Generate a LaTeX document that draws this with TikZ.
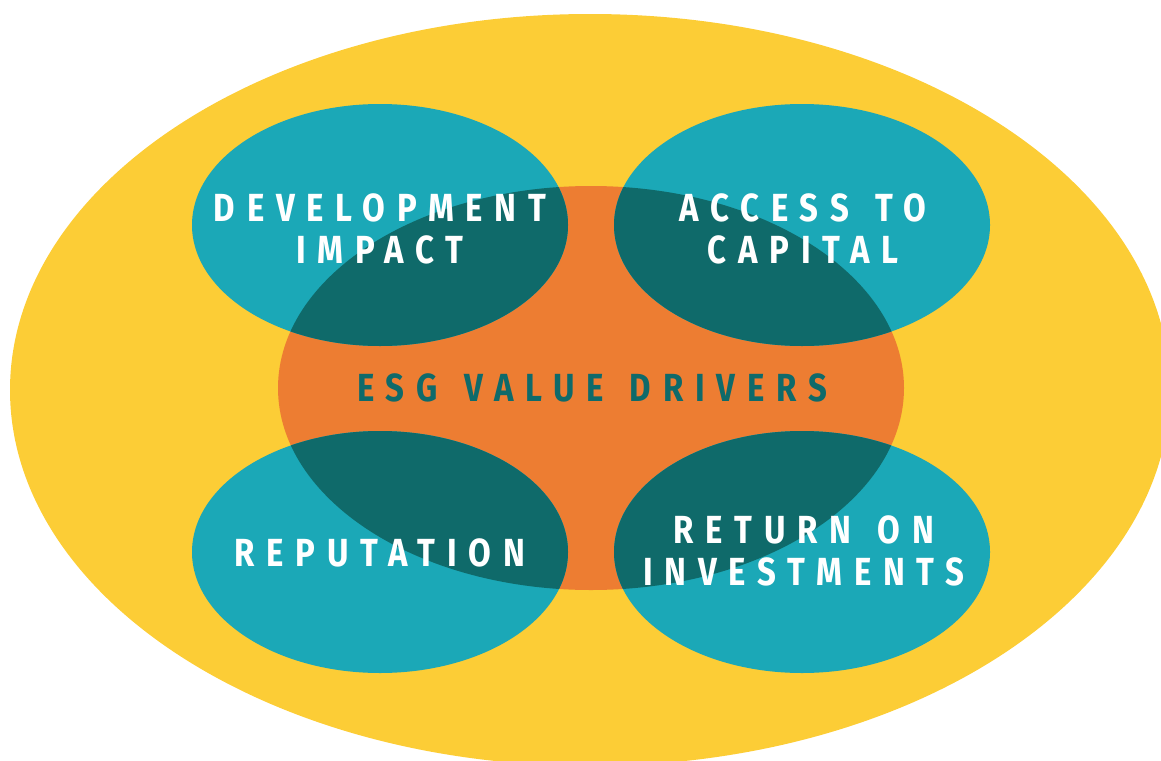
\documentclass[tikz,border=0pt]{standalone}
\usepackage{fontspec}
\newfontfamily\dinfont[FakeStretch=0.84,LetterSpace=30,WordSpace=1.35]{Fira Sans}
\usetikzlibrary{positioning}
\definecolor{myyellow}{HTML}{FCCD36}
\definecolor{myorange}{HTML}{ED7D32}
\definecolor{myteal}{HTML}{1BA8B7}
\definecolor{mydarkteal}{HTML}{0F6A6A}
\tikzset{
	labelnode/.style={
			shape=rectangle,
			inner sep=0pt,
			align=center,
			text=white,
			font=\dinfont\bfseries\fontsize{19.6}{21}\selectfont
		},
	centernode/.style={
			labelnode,
			text=mydarkteal
		}
}

\begin{document}
\begin{tikzpicture}[x=0.5pt,y=-0.5pt]

  \clip (0,0) rectangle (1161,760);

  \fill[myyellow] (590,390) ellipse [x radius=580, y radius=376];
  \fill[myorange] (591,388) ellipse [x radius=313, y radius=202];

  \fill[myteal] (380,225) ellipse [x radius=188, y radius=121];
  \fill[myteal] (802,225) ellipse [x radius=188, y radius=121];
  \fill[myteal] (380,552) ellipse [x radius=188, y radius=121];
  \fill[myteal] (802,552) ellipse [x radius=188, y radius=121];

  \begin{scope}
    \clip (591,388) ellipse [x radius=313, y radius=202];
    \fill[mydarkteal] (380,225) ellipse [x radius=188, y radius=121];
    \fill[mydarkteal] (802,225) ellipse [x radius=188, y radius=121];
    \fill[mydarkteal] (380,552) ellipse [x radius=188, y radius=121];
    \fill[mydarkteal] (802,552) ellipse [x radius=188, y radius=121];
  \end{scope}

  \node[labelnode] (impact) at (380,229) {DEVELOPMENT\\IMPACT};
  \node[labelnode] (capital) at (803,229) {ACCESS TO\\CAPITAL};
  \node[labelnode] (reputation) at (380,553) {REPUTATION};
  \node[labelnode] (return) at (804,551) {RETURN ON\\INVESTMENTS};
  \node[centernode] (esg) at (592,388) {ESG VALUE DRIVERS};

\end{tikzpicture}
\end{document}
